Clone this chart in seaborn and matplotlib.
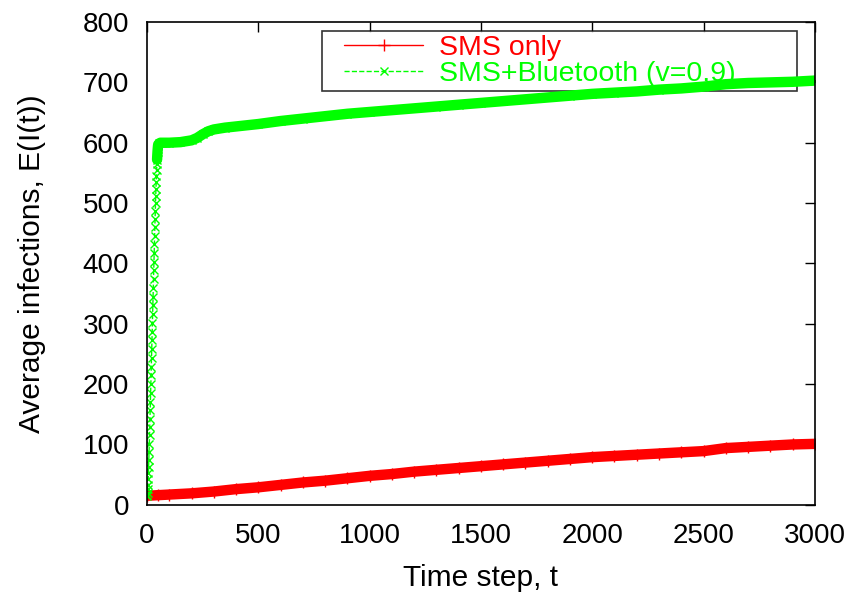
import numpy as np
import pandas as pd
import seaborn as sns
import matplotlib.pyplot as plt
from matplotlib.lines import Line2D
from matplotlib.legend_handler import HandlerLine2D

# Values
red_t = [0, 50, 100, 200, 300, 400, 500, 600, 700, 800, 900, 1000, 1100, 1200,
         1300, 1400, 1500, 1600, 1700, 1800, 1900, 2000, 2100, 2200, 2300, 2400,
         2500, 2600, 2700, 2800, 2900, 3000]
red_vals = [15, 16, 17, 19, 22, 26, 29, 33, 37, 40, 44, 48, 51, 55,
            58, 61, 64, 67, 70, 73, 76, 79, 81, 83, 85, 87,
            89, 94, 96, 98, 100, 101]

# steep early rise of the SMS+Bluetooth curve, one value per time step
green_rise_t = list(range(0, 51))
green_rise = [15, 17, 20, 26, 33, 42, 52, 63, 75, 88, 101, 115, 129, 143, 157,
              171, 186, 200, 215, 229, 244, 258, 273, 287, 302, 316, 331, 345,
              360, 374, 389, 403, 418, 432, 446, 460, 474, 487, 500, 512, 524,
              535, 545, 555, 564, 572, 579, 585, 590, 594, 597]
green_t = [55, 60, 100, 150, 200, 225, 250, 275, 300, 350, 400, 500, 600, 700,
           800, 900, 1000, 1100, 1200, 1300, 1400, 1500, 1600, 1700, 1800,
           1900, 2000, 2100, 2200, 2300, 2400, 2500, 2600, 2700, 2800, 2900, 3000]
green_vals = [599, 600, 600, 601, 604, 608, 614, 619, 622, 625, 627, 631, 636,
              640, 644, 648, 651, 654, 657, 660, 663, 666, 669, 672, 675, 678,
              681, 683, 685, 688, 690, 693, 697, 699, 700, 701, 703]

red = pd.DataFrame({'t': red_t, 'v': red_vals})
green = pd.DataFrame({'t': green_rise_t + green_t, 'v': green_rise + green_vals})
green_band = green[green['t'] >= 45]

sns.set_style('white')
plt.rcParams['font.family'] = ['Liberation Sans', 'DejaVu Sans']
plt.rcParams['text.color'] = 'black'
plt.rcParams['axes.labelcolor'] = 'black'
plt.rcParams['xtick.color'] = 'black'
plt.rcParams['ytick.color'] = 'black'

RED = '#ff0000'
GREEN = '#00ff00'

fig = plt.figure(figsize=(8.55, 5.96), dpi=100)
ax = fig.add_axes([0.172, 0.153, 0.781, 0.810])

# thick bands (dense overlapping markers in the original)
sns.lineplot(data=red, x='t', y='v', color=RED, lw=7.5, legend=False, ax=ax,
             solid_capstyle='butt')
sns.lineplot(data=red, x='t', y='v', color=RED, lw=1, marker='+', ms=8,
             mec=RED, mfc=RED, markeredgewidth=1, legend=False, ax=ax)
sns.lineplot(data=green_band, x='t', y='v', color=GREEN, lw=7.5, legend=False,
             ax=ax, solid_capstyle='round')
sns.lineplot(data=green, x='t', y='v', color=GREEN, lw=1, linestyle='--',
             marker='x', ms=6, mec=GREEN, mfc=GREEN, markeredgewidth=1,
             legend=False, ax=ax)

ax.set_xlim(0, 3000)
ax.set_ylim(0, 800)
ax.set_xticks(np.arange(0, 3001, 500))
ax.set_yticks(np.arange(0, 801, 100))
ax.tick_params(direction='in', length=7, width=1, top=True, right=True,
               labelsize=20, pad=13, color='black')
for s in ax.spines.values():
    s.set_color('black')
    s.set_linewidth(1.2)

ax.set_xlabel('Time step, t', fontsize=21.5, labelpad=11)
ax.set_ylabel('Average infections, E(I(t))', fontsize=21.5, labelpad=26)

handles = [
    Line2D([], [], color=RED, lw=1, marker='+', ms=8, mec=RED, mew=1),
    Line2D([], [], color=GREEN, lw=1, ls='--', marker='x', ms=6, mec=GREEN, mew=1),
]
hm = {h: HandlerLine2D(numpoints=1, xpad=0.62) for h in handles}
leg = ax.legend(handles, ['SMS only', 'SMS+Bluetooth (v=0.9)'],
                loc='upper left', bbox_to_anchor=(0.262, 0.0, 0.711, 0.982),
                mode='expand', handler_map=hm, numpoints=1,
                handlelength=3.4, handletextpad=0.55, labelspacing=0.0,
                borderpad=0.15, borderaxespad=0, fancybox=False, fontsize=20.5,
                labelcolor=[RED, GREEN], frameon=True)
leg.get_frame().set_edgecolor('black')
leg.get_frame().set_linewidth(1.2)
# curves pass over the legend box, as in the original
leg.set_zorder(1)

fig.savefig('out.png', dpi=100)
